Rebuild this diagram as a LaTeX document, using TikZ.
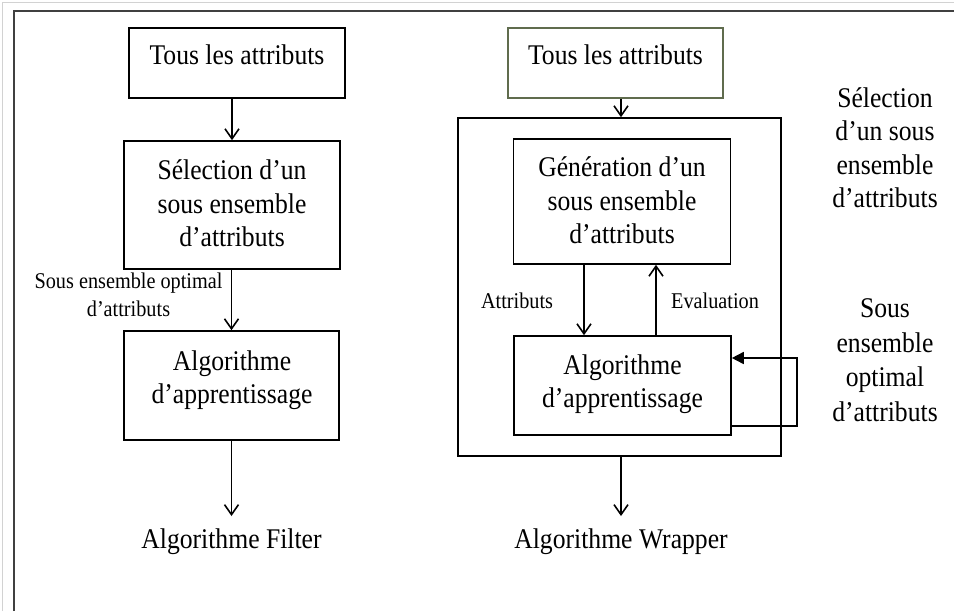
\documentclass[tikz,border=0pt]{standalone}
\usepackage{fontspec}
\setmainfont{Liberation Serif}[FakeStretch=0.9]
\usetikzlibrary{arrows.meta}
\definecolor{framegray}{RGB}{64,64,64}
\definecolor{olivebox}{RGB}{96,108,78}
\begin{document}
\begin{tikzpicture}[x=1pt,y=-1pt,
  box/.style={draw=black,line width=1.6pt,inner sep=0pt},
  big/.style={font=\fontsize{28.5}{33.5}\selectfont,inner sep=0pt,align=center},
  small/.style={font=\fontsize{22.5}{28}\selectfont,inner sep=0pt,align=center},
  arr/.style={line width=1.6pt,-{Straight Barb[length=10pt,width=14pt,line width=1.6pt]}},
  loop/.style={line width=1.6pt,-{Triangle[length=12pt,width=12pt]}}]
\useasboundingbox (0,0) rectangle (954,611);
% outer window edge and frame
\draw[gray!35,line width=1pt] (2.5,611) -- (2.5,2.5) -- (954,2.5);
\draw[framegray,line width=2.2pt] (14,611) -- (14,11) -- (954,11);

% ---------- Filter approach ----------
\node[box,minimum width=216pt,minimum height=70pt] (tf1) at (237,63) {};
\node[big,anchor=base] (tf1t) at (237,64) {Tous les attributs};
\node[box,minimum width=216pt,minimum height=128pt] (sel) at (232,205) {};
\node[big] (selt) at (232,203.7) {Sélection d’un\\sous ensemble\\d’attributs};
\node[box,minimum width=215pt,minimum height=109pt] (alg1) at (231.5,385.5) {};
\node[big] (alg1t) at (232,380) {Algorithme\\d’apprentissage};
\node[small] (optl) at (128.5,295) {Sous ensemble optimal\\d’attributs};
\node[big,anchor=base] (filter) at (231.5,548) {Algorithme Filter};

\draw[arr] (tf1.south -| sel.north) -- (sel.north);
\draw[arr] (sel.south -| alg1.north) -- (alg1.north);
\draw[arr] (alg1.south) -- ([yshift=12pt]filter.north -| alg1.south);

% ---------- Wrapper approach ----------
\node[box,draw=olivebox,minimum width=215pt,minimum height=70pt] (tf2) at (615.5,63) {};
\node[big,anchor=base] (tf2t) at (615.5,64) {Tous les attributs};
\node[box,minimum width=323pt,minimum height=338pt] (outer) at (619.5,287) {};
\node[box,minimum width=217pt,minimum height=125pt] (gen) at (622,201.5) {};
\node[big] (gent) at (622,200.7) {Génération d’un\\sous ensemble\\d’attributs};
\node[box,minimum width=217pt,minimum height=99pt] (wal) at (622.5,385.5) {};
\node[big] (walt) at (622.5,384) {Algorithme\\d’apprentissage};
\node[small,anchor=base] (attl) at (517,308) {Attributs};
\node[small,anchor=base] (evall) at (715,308) {Evaluation};
\node[big,anchor=base] (wrapper) at (621,548) {Algorithme Wrapper};
\node[big] (sell) at (885,147.7) {Sélection\\d’un sous\\ensemble\\d’attributs};
\node[big,font=\fontsize{28.5}{34.5}\selectfont] (optr) at (885,360) {Sous\\ensemble\\optimal\\d’attributs};

\coordinate (fbr) at (797,358);
\draw[arr] (tf2.south -| 621,0) -- (outer.north -| 621,0);
\draw[arr] (gen.south -| 584,0) -- (wal.north -| 584,0);
\draw[arr] (wal.north -| 656,0) -- (gen.south -| 656,0);
\draw[loop] (wal.east |- 0,426) -| (fbr) -- (wal.east |- fbr);
\draw[arr] (outer.south -| 621,0) -- ([yshift=12pt]wrapper.north -| 621,0);
\end{tikzpicture}
\end{document}
